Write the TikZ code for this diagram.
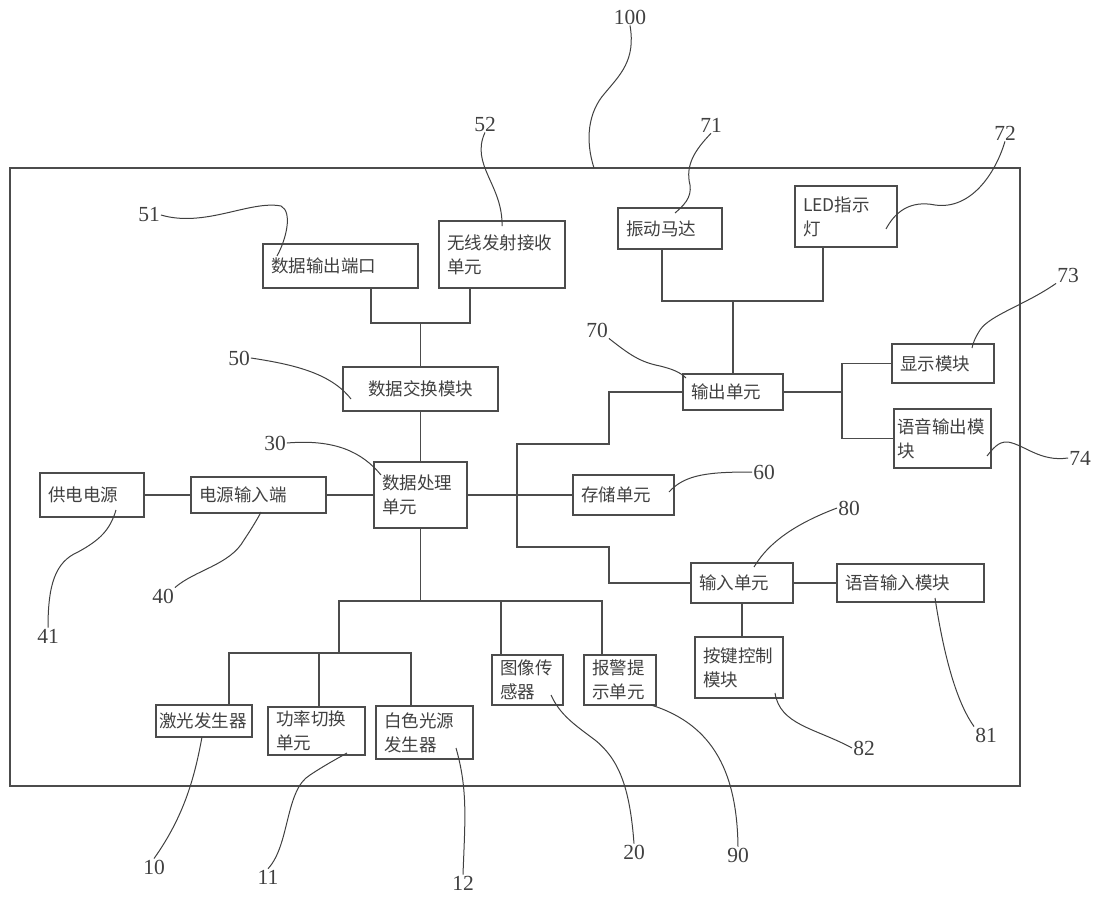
\documentclass[tikz,border=0pt]{standalone}
\usepackage{fontspec}
\setmainfont{Liberation Serif}
\newfontfamily\cjk{Noto Sans CJK SC}
\usetikzlibrary{calc}

\begin{document}
\begin{tikzpicture}[
    x=1pt, y=-1pt,
    box/.style={
        draw=black!70,
        line width=1.3pt,
        inner xsep=8pt,
        inner ysep=0pt,
        align=left,
        text=black!75,
        font=\cjk\fontsize{17.5}{24}\selectfont
    },
    wire/.style={draw=black!70, line width=1.3pt},
    lead/.style={draw=black!75, line width=1pt},
    num/.style={font=\fontsize{21.5}{24}\selectfont, text=black!75, inner sep=1pt},
    sysframe/.style={draw=black!70, line width=1.3pt, inner sep=0pt}
]
\useasboundingbox (0,0) rectangle (1098,899);

% System frame
\node[sysframe, minimum width=1010pt, minimum height=618pt] (sys) at (515,477) {};

% Data exchange branch
\node[box, text width=139pt, minimum height=44pt] (dout) at (340.5,266) {数据输出端口};
\node[box, text width=110pt, minimum height=67pt] (wrx) at (502,254.5) {无线发射接收\\单元};
\node[box, text width=139pt, minimum height=44pt, align=center] (xchg) at (420.5,389) {数据交换模块};
\node[box, text width=77pt, minimum height=66pt] (cpu) at (420.5,495) {数据处理\\单元};

% Power supply
\node[box, text width=88pt, minimum height=44pt] (psu) at (92,495) {供电电源};
\node[box, text width=119pt, minimum height=36pt] (pin) at (258.5,495) {电源输入端};
\node[box, text width=85pt, minimum height=40pt] (mem) at (623.5,495) {存储单元};

% Output unit
\node[box, text width=88pt, minimum height=41pt] (vib) at (670,228.5) {振动马达};
\node[box, text width=86pt, minimum height=61pt] (led) at (846,216.5) {LED指示\\灯};
\node[box, text width=84pt, minimum height=36pt] (outu) at (733,392) {输出单元};
\node[box, text width=86pt, minimum height=39pt] (disp) at (943,363.5) {显示模块};
\node[box, inner xsep=3pt, text width=91pt, minimum height=59pt] (vout) at (942.5,438.5) {语音输出模\\块};

% Input unit
\node[box, text width=86pt, minimum height=40pt] (inu) at (742,583) {输入单元};
\node[box, text width=131pt, minimum height=38pt] (vin) at (910.5,583) {语音输入模块};
\node[box, text width=72pt, minimum height=61pt] (key) at (739,667.5) {按键控制\\模块};

% Light source and sensing
\node[box, inner xsep=3pt, text width=90pt, minimum height=32pt] (laser) at (204,721) {激光发生器};
\node[box, text width=81pt, minimum height=48pt] (pwr) at (316.5,731) {功率切换\\单元};
\node[box, text width=81pt, minimum height=53pt] (white) at (424.5,732.5) {白色光源\\发生器};
\node[box, text width=55pt, minimum height=50pt] (img) at (527.5,680) {图像传\\感器};
\node[box, text width=56pt, minimum height=50pt] (alarm) at (620,680) {报警提\\示单元};

% Connectors
\coordinate (jx) at (420.5,323);
\draw[wire] ([xshift=30.5]dout.south) |- (jx) -| ([xshift=-32]wrx.south);
\draw[wire] (jx) -- (xchg.north);
\draw[wire] (xchg) -- (cpu);
\draw[wire] (psu) -- (pin);
\draw[wire] (pin) -- (cpu);
\draw[wire] (cpu) -- (mem);

\coordinate (jo) at (733,301);
\draw[wire] ([xshift=-8]vib.south) |- (jo) -| ([xshift=-23]led.south);
\draw[wire] (jo) -- (outu.north);
\coordinate (jb) at (842,392);
\draw[wire] (outu) -- (jb);
\draw[wire] (disp.west) -| (jb) |- (vout.west);

\coordinate (s1) at (609,444);
\coordinate (s2) at (517,547);
\draw[wire] (outu.west) -| (s1) -| (s2) -- (s2 -| s1) |- (inu.west);
\draw[wire] (inu) -- (vin);
\draw[wire] (inu.south) -- (inu.south |- key.north);

\coordinate (t1) at (420.5,601);
\coordinate (t2) at (339,653);
\draw[wire] (cpu.south) -- (t1);
\draw[wire] (t2) |- (t1) -| ([xshift=-18]alarm.north);
\draw[wire] ([xshift=-26.5]img.north) |- (t1);
\draw[wire] ([xshift=25]laser.north) |- (t2) -| ([xshift=-13.5]white.north);
\draw[wire] ([xshift=2.5]pwr.north) |- (t2);

% Reference numerals
\node[num] (n100) at (630,17) {100};
\node[num] (n51) at (149,215) {51};
\node[num] (n52) at (485,124) {52};
\node[num] (n50) at (239,358) {50};
\node[num] (n30) at (275,443) {30};
\node[num] (n41) at (48,636) {41};
\node[num] (n40) at (163,596) {40};
\node[num] (n10) at (154,867) {10};
\node[num] (n11) at (268,877) {11};
\node[num] (n12) at (463,883) {12};
\node[num] (n20) at (634,852) {20};
\node[num] (n90) at (738,855) {90};
\node[num] (n82) at (864,748) {82};
\node[num] (n81) at (986,735) {81};
\node[num] (n80) at (849,508) {80};
\node[num] (n60) at (764,472) {60};
\node[num] (n70) at (597,330) {70};
\node[num] (n71) at (711,125) {71};
\node[num] (n72) at (1005,133) {72};
\node[num] (n73) at (1068,275) {73};
\node[num] (n74) at (1080,458) {74};

% Leader lines
\coordinate (p100) at (594,168);
\coordinate (p51) at (277,256);
\coordinate (p52) at (502,226);
\coordinate (p50) at (351,399);
\coordinate (p30) at (381,475);
\coordinate (p41) at (116,510);
\coordinate (p40) at (261,512);
\coordinate (p10) at (202,737);
\coordinate (p11) at (347,753);
\coordinate (p12) at (456,748);
\coordinate (p20) at (551,695);
\coordinate (p90) at (651,705);
\coordinate (p82) at (775,693);
\coordinate (p81) at (935,598);
\coordinate (p80) at (754,567);
\coordinate (p60) at (669,492);
\coordinate (p70) at (686,378);
\coordinate (p71) at (675,213);
\coordinate (p72) at (886,229);
\coordinate (p73) at (972,348);
\coordinate (p74) at (987,456);

\draw[lead] (n100.south) .. controls (636,60) and (620,75) .. (605,93) .. controls (588,112) and (585,140) .. (p100);
\draw[lead] (n51.east) .. controls (205,228) and (250,200) .. (281,206) .. controls (293,212) and (286,240) .. (p51);
\draw[lead] (n52.south) .. controls (470,165) and (503,185) .. (p52);
\draw[lead] (n50.east) .. controls (290,364) and (330,372) .. (p50);
\draw[lead] (n30.east) .. controls (335,439) and (362,452) .. (p30);
\draw[lead] (n41.north) .. controls (48,585) and (55,562) .. (78,552) .. controls (100,540) and (110,530) .. (p41);
\draw[lead] (n40.north east) .. controls (195,570) and (230,565) .. (244,540) .. controls (252,528) and (258,518) .. (p40);
\draw[lead] (n10.north) .. controls (185,815) and (195,775) .. (p10);
\draw[lead] (n11.north) .. controls (290,845) and (285,790) .. (310,775) .. controls (325,765) and (340,757) .. (p11);
\draw[lead] (n12.north) .. controls (465,820) and (468,790) .. (p12);
\draw[lead] (n20.north) .. controls (630,790) and (620,760) .. (595,740) .. controls (575,725) and (560,715) .. (p20);
\draw[lead] (n90.north) .. controls (737,775) and (715,725) .. (p90);
\draw[lead] (n82.west) .. controls (815,728) and (780,725) .. (p82);
\draw[lead] (n81.north west) .. controls (955,700) and (943,650) .. (p81);
\draw[lead] (n80.west) .. controls (800,522) and (770,540) .. (p80);
\draw[lead] (n60.west) .. controls (710,472) and (685,474) .. (p60);
\draw[lead] (n70.south east) .. controls (630,355) and (640,362) .. (660,366) .. controls (672,369) and (680,372) .. (p70);
\draw[lead] (n71.south) .. controls (695,150) and (685,165) .. (690,185) .. controls (692,198) and (683,206) .. (p71);
\draw[lead] (n72.south) .. controls (995,175) and (970,210) .. (935,205) .. controls (910,200) and (895,212) .. (p72);
\draw[lead] (n73.south west) .. controls (1025,305) and (990,315) .. (980,330) .. controls (975,338) and (973,343) .. (p73);
\draw[lead] (n74.west) .. controls (1040,462) and (1025,445) .. (1008,442) .. controls (998,441) and (992,450) .. (p74);

\end{tikzpicture}
\end{document}
